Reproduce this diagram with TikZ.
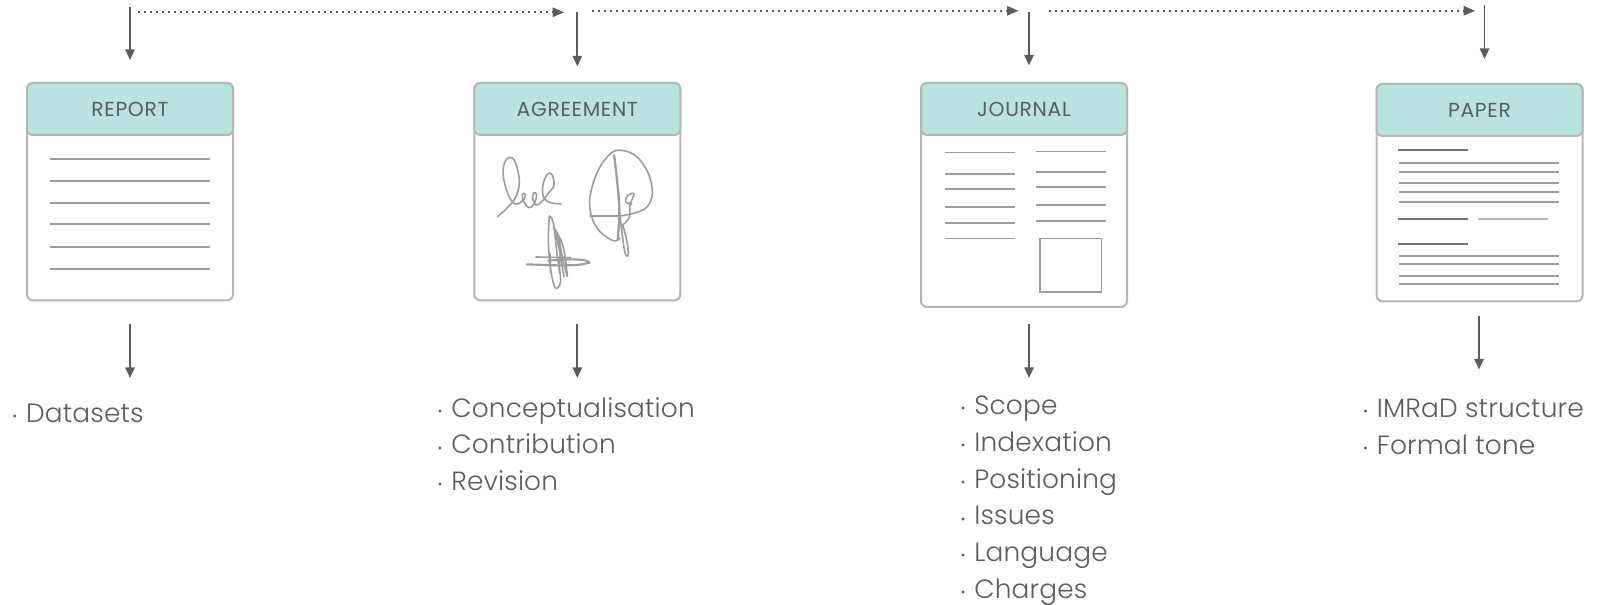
\documentclass[tikz,border=0pt]{standalone}
\usepackage{fontspec}
\setmainfont{Poppins}[UprightFont=* Light,LetterSpace=0.6]
\newfontfamily\headfont{Poppins}[LetterSpace=3.5]
\usetikzlibrary{arrows.meta}
\definecolor{inkgrey}{HTML}{5A5C5E}
\definecolor{framegrey}{HTML}{B6B6B6}
\definecolor{rulegrey}{HTML}{9C9C9C}
\definecolor{headteal}{HTML}{B8E3E1}
\newcommand{\itm}[1]{\makebox[10.2pt][l]{\raisebox{1.4pt}{\fontsize{9}{9}\selectfont •}}#1}

\begin{document}
\begin{tikzpicture}[x=0.75pt,y=-0.75pt,
              docbox/.style = {draw=framegrey, line width=1.5pt, rounded corners=4.5pt, fill=white,
                minimum width=154.5pt, inner sep=0pt, anchor=north},
              dochead/.style = {draw=framegrey, line width=1.5pt, rounded corners=4.5pt, fill=headteal,
                minimum width=154.5pt, minimum height=39pt, inner sep=0pt, anchor=north,
                text=inkgrey, font=\headfont\fontsize{15.2}{16}\selectfont},
              itemlist/.style = {anchor=north west, align=left, inner sep=0pt, text=inkgrey,
                font=\fontsize{19.8}{27.63}\selectfont},
              flow/.style = {draw=inkgrey, line width=1.4pt, -{Triangle[length=8pt,width=7pt]}},
              nextstep/.style = {draw=inkgrey, line width=1.3pt, dash pattern=on 1.3pt off 3.2pt,
                -{Triangle[length=8.5pt,width=7pt]}},
              rule/.style = {draw=rulegrey, line width=1.35pt},
              pen/.style = {draw=rulegrey, line width=1.2pt, line join=round, line cap=round}]
  \useasboundingbox (0,0) rectangle (1605,605);

  % documents
  \node[docbox, minimum height=163pt] (report) at (130,82) {};
  \node[dochead] (reporthead) at (report.north) {REPORT};
  \node[docbox, minimum height=163pt] (agreement) at (577.3,82) {};
  \node[dochead] (agreementhead) at (agreement.north) {AGREEMENT};
  \node[docbox, minimum height=168pt] (journal) at (1024,82) {};
  \node[dochead] (journalhead) at (journal.north) {JOURNAL};
  \node[docbox, minimum height=163pt] (paper) at (1479.5,83) {};
  \node[dochead] (paperhead) at (paper.north) {PAPER};

  % arrow ends
  \coordinate (reporttop) at (130,7);
  \coordinate (reportin) at (130,60);
  \coordinate (reportout) at (130,324.5);
  \coordinate (reportend) at (130,378);
  \coordinate (agreementtop) at (577.3,12);
  \coordinate (agreementin) at (577.3,66.5);
  \coordinate (agreementout) at (577.3,324.5);
  \coordinate (agreementend) at (577.3,378);
  \coordinate (journaltop) at (1029,12);
  \coordinate (journalin) at (1029,65.5);
  \coordinate (journalout) at (1029,324.5);
  \coordinate (journalend) at (1029,378);
  \coordinate (papertop) at (1484.5,5);
  \coordinate (paperin) at (1484.5,59);
  \coordinate (paperout) at (1479,316);
  \coordinate (paperend) at (1479,369.5);
  \coordinate (stepa) at (138,12.3);
  \coordinate (stepb) at (564,12.3);
  \coordinate (stepc) at (592,10.8);
  \coordinate (stepd) at (1018.5,10.8);
  \coordinate (stepe) at (1049,10.8);
  \coordinate (stepf) at (1475,10.8);

  \draw[flow] (reporttop) -- (reportin);
  \draw[flow] (reportout) -- (reportend);
  \draw[flow] (agreementtop) -- (agreementin);
  \draw[flow] (agreementout) -- (agreementend);
  \draw[flow] (journaltop) -- (journalin);
  \draw[flow] (journalout) -- (journalend);
  \draw[flow] (papertop) -- (paperin);
  \draw[flow] (paperout) -- (paperend);
  \draw[nextstep] (stepa) -- (stepb);
  \draw[nextstep] (stepc) -- (stepd);
  \draw[nextstep] (stepe) -- (stepf);

  % report lines
  \draw[rule] (50,158.7) -- (210,158.7) (50,181.2) -- (210,181.2) (50,202.7) -- (210,202.7)
    (50,224.2) -- (210,224.2) (50,246.7) -- (210,246.7) (50,269.2) -- (210,269.2);

  % signatures
  \begin{scope}[shift={(460,130)},x=0.25pt,y=-0.25pt]
    \draw[pen] plot[smooth, tension=0.6] coordinates {(113,260) (150,225) (170,195) (178,150) (165,95) (148,82)
      (133,100) (130,140) (145,195) (165,222) (185,215) (197,197) (190,190) (187,205) (205,233) (222,222) (230,195) (222,188)
      (218,205) (228,225) (245,215) (265,190) (282,165) (275,132) (260,135) (248,170) (252,205) (272,218) (303,222)};
    \draw[pen] plot[smooth, tension=0.6] coordinates {(480,258) (520,250) (560,232) (577,190) (565,130) (530,80)
      (490,62) (455,68) (415,120) (390,200) (395,260) (420,305) (460,332) (480,325)};
    \draw[pen] (390,258) -- (480,258);
    \draw[pen, line width=1.7pt] plot[smooth, tension=0.6] coordinates {(462,75) (470,140) (478,240) (473,330)};
    \draw[pen] plot[smooth, tension=0.6] coordinates {(478,240) (485,300) (495,368) (505,375) (500,330) (488,285)};
    \draw[pen] plot[smooth, tension=0.6] coordinates {(488,285) (508,262) (510,225) (522,192) (505,195) (497,215) (515,222)};
    \draw[pen] plot[smooth, tension=0.6] coordinates {(268,258) (265,330) (272,420) (287,475) (302,450) (292,380) (280,280) (268,258)};
    \draw[pen] plot[smooth, tension=0.6] coordinates {(282,295) (308,345) (322,438) (308,385) (295,320) (285,300) (298,360) (312,440)};
    \draw[pen] (228,381) -- (332,383);
    \draw[pen] (270,372) -- (272,425) (300,375) -- (298,430);
    \draw[pen, line width=1.6pt] plot[smooth, tension=0.4] coordinates {(200,403) (290,406) (350,405) (388,398) (370,390) (320,388) (265,392)};
  \end{scope}

  % journal lines
  \draw[rule] (945,152.5) -- (1014.5,152.5) (945,174) -- (1014.5,174) (945,189.4) -- (1014.5,189.4)
    (945,206.8) -- (1014.5,206.8) (945,223.2) -- (1014.5,223.2) (945,238.5) -- (1014.5,238.5);
  \draw[rule] (1036,151.5) -- (1105.5,151.5) (1036,172) -- (1105.5,172) (1036,187.3) -- (1105.5,187.3)
    (1036,204.7) -- (1105.5,204.7) (1036,221) -- (1105.5,221);
  \draw[rule] (1040,238.5) rectangle (1101.5,291.7);

  % paper lines
  \draw[rule, draw=inkgrey!85] (1398,150.3) -- (1467.7,150.3) (1398,219.3) -- (1467.7,219.3) (1398,244.3) -- (1467.7,244.3);
  \draw[rule, draw=framegrey] (1478,219.3) -- (1547.7,219.3);
  \draw[rule] (1399.3,163) -- (1558.7,163) (1399.3,171.7) -- (1558.7,171.7) (1399.3,183.3) -- (1558.7,183.3)
    (1399.3,192) -- (1558.7,192) (1399.3,202.3) -- (1558.7,202.3) (1399.3,255.7) -- (1558.7,255.7)
    (1399.3,264) -- (1558.7,264) (1399.3,275.7) -- (1558.7,275.7) (1399.3,284.3) -- (1558.7,284.3);

  % lists
  \node[itemlist] (reportlist) at (12.3,403.5) {\itm{Datasets}};
  \node[itemlist] (agreementlist) at (437.5,397) {\itm{Conceptualisation}\\\itm{Contribution}\\\itm{Revision}};
  \node[itemlist] (journallist) at (960.5,395.5) {\itm{Scope}\\\itm{Indexation}\\\itm{Positioning}\\\itm{Issues}\\\itm{Language}\\\itm{Charges}};
  \node[itemlist] (paperlist) at (1363,398.5) {\itm{IMRaD structure}\\\itm{Formal tone}};
\end{tikzpicture}
\end{document}
